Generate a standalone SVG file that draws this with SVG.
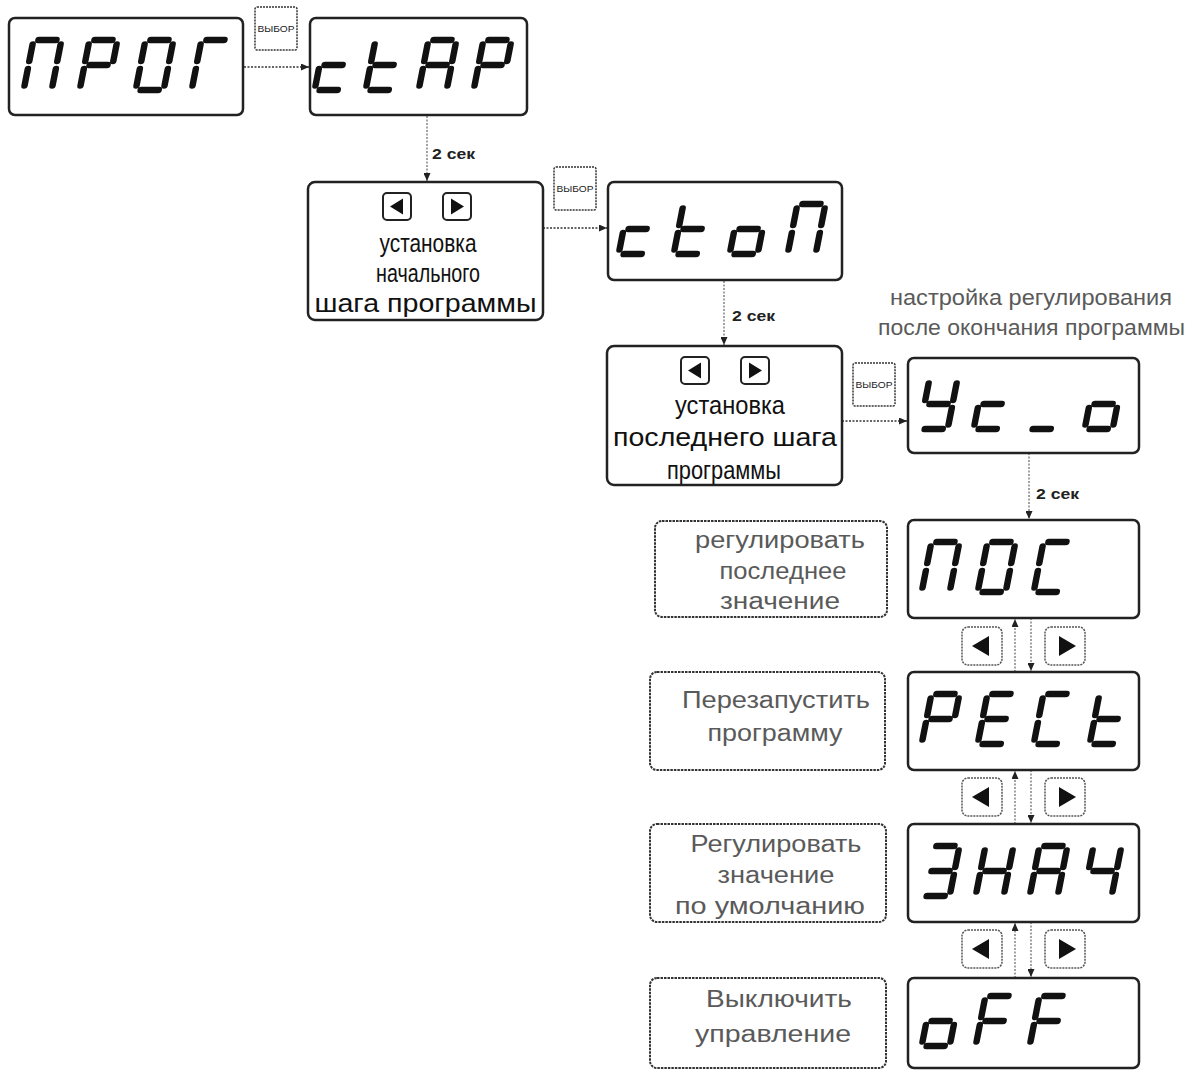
<svg xmlns="http://www.w3.org/2000/svg" xmlns:xlink="http://www.w3.org/1999/xlink" width="1196" height="1070" viewBox="0 0 1196 1070">
<style>
.disp{fill:#fff;stroke:#222;stroke-width:2.5}
.lbox{fill:#fff;stroke:#333;stroke-width:2;stroke-dasharray:2.5 1}
.s{fill:none;stroke:#111;stroke-width:6.5;stroke-linecap:round}
.btn{fill:#fff;stroke:#222;stroke-width:2}
.btn2{fill:#fff;stroke:#555;stroke-width:1.5;stroke-dasharray:2 1}
.tri{fill:#111}
.sel{fill:#fff;stroke:#333;stroke-width:1.5;stroke-dasharray:2 1}
.seltxt{font-family:"Liberation Sans",Arial,sans-serif;font-size:9.5px;fill:#222;text-anchor:middle}
.t{font-family:"Liberation Sans",Arial,sans-serif;font-size:25px;fill:#111;text-anchor:middle}
.tg{font-family:"Liberation Sans",Arial,sans-serif;font-size:23px;fill:#5a5a5a;text-anchor:middle}
.note{font-family:"Liberation Sans",Arial,sans-serif;font-size:22px;fill:#5a5a5a;text-anchor:middle}
.sec{font-family:"Liberation Sans",Arial,sans-serif;font-size:15px;font-weight:bold;fill:#222}
.c{fill:none;stroke:#333;stroke-width:1.5;stroke-dasharray:2 1.5}
.cv{fill:none;stroke:#666;stroke-width:1.2;stroke-dasharray:2 1.5}
</style>
<defs>
<marker id="ah" markerUnits="userSpaceOnUse" markerWidth="8" markerHeight="7" refX="8" refY="3.5" orient="auto">
<path d="M0,0 L8,3.5 L0,7 z" fill="#222"/>
</marker>
<path id="sa" d="M8 3 H26"/>
<path id="sb" d="M31 7.5 V24"/>
<path id="sc" d="M31 32 V48.5"/>
<path id="sd" d="M8 53 H26"/>
<path id="se" d="M3 32 V48.5"/>
<path id="sf" d="M3 7.5 V24"/>
<path id="sg" d="M8 28 H26"/>
<g id="gPe" class="s" transform="skewX(-11)"><use href="#sa"/><use href="#sb"/><use href="#sc"/><use href="#se"/><use href="#sf"/></g>
<g id="gEr" class="s" transform="skewX(-11)"><use href="#sa"/><use href="#sb"/><use href="#sf"/><use href="#sg"/><use href="#se"/></g>
<g id="gO" class="s" transform="skewX(-11)"><use href="#sa"/><use href="#sb"/><use href="#sc"/><use href="#sd"/><use href="#se"/><use href="#sf"/></g>
<g id="gG" class="s" transform="skewX(-11)"><use href="#sa"/><use href="#sf"/><use href="#se"/></g>
<g id="gc" class="s" transform="skewX(-11)"><use href="#sg"/><use href="#se"/><use href="#sd"/></g>
<g id="gt" class="s" transform="skewX(-11)"><use href="#sf"/><use href="#se"/><use href="#sg"/><use href="#sd"/></g>
<g id="gA" class="s" transform="skewX(-11)"><use href="#sa"/><use href="#sb"/><use href="#sc"/><use href="#se"/><use href="#sf"/><use href="#sg"/></g>
<g id="go" class="s" transform="skewX(-11)"><use href="#sg"/><use href="#sc"/><use href="#sd"/><use href="#se"/></g>
<g id="gU" class="s" transform="skewX(-11)"><use href="#sf"/><use href="#sb"/><use href="#sg"/><use href="#sc"/><use href="#sd"/></g>
<g id="gu" class="s" transform="skewX(-11)"><use href="#sd"/></g>
<g id="gS" class="s" transform="skewX(-11)"><use href="#sa"/><use href="#sf"/><use href="#se"/><use href="#sd"/></g>
<g id="gE" class="s" transform="skewX(-11)"><use href="#sa"/><use href="#sf"/><use href="#sg"/><use href="#se"/><use href="#sd"/></g>
<g id="gZ" class="s" transform="skewX(-11)"><use href="#sa"/><use href="#sb"/><use href="#sg"/><use href="#sc"/><use href="#sd"/></g>
<g id="gN" class="s" transform="skewX(-11)"><use href="#sf"/><use href="#sb"/><use href="#sg"/><use href="#se"/><use href="#sc"/></g>
<g id="gCh" class="s" transform="skewX(-11)"><use href="#sf"/><use href="#sb"/><use href="#sg"/><use href="#sc"/></g>
<g id="gF" class="s" transform="skewX(-11)"><use href="#sa"/><use href="#sf"/><use href="#sg"/><use href="#se"/></g>
<path id="tl" class="tri" d="M0 0 L13 -8 L13 8 z"/>
<path id="tr" class="tri" d="M0 0 L-13 -8 L-13 8 z"/>
<path id="tl2" class="tri" d="M0 0 L17 -10 L17 10 z"/>
<path id="tr2" class="tri" d="M0 0 L-17 -10 L-17 10 z"/>
</defs>

<g id="connectors">
<path class="c" d="M244 67 H309" marker-end="url(#ah)"/>
<path class="cv" d="M427 116 V181" marker-end="url(#ah)"/>
<path class="c" d="M543 228 H607" marker-end="url(#ah)"/>
<path class="cv" d="M724 281 V345" marker-end="url(#ah)"/>
<path class="c" d="M842 421 H907" marker-end="url(#ah)"/>
<path class="cv" d="M1029 453 V519" marker-end="url(#ah)"/>
<path class="cv" d="M1015 672 V619" marker-end="url(#ah)"/>
<path class="cv" d="M1031 618 V671" marker-end="url(#ah)"/>
<path class="cv" d="M1015 824 V771" marker-end="url(#ah)"/>
<path class="cv" d="M1031 770 V823" marker-end="url(#ah)"/>
<path class="cv" d="M1015 978 V923" marker-end="url(#ah)"/>
<path class="cv" d="M1031 922 V977" marker-end="url(#ah)"/>
<text class="sec" x="432" y="159" textLength="43" lengthAdjust="spacingAndGlyphs">2 сек</text>
<text class="sec" x="732" y="321" textLength="43" lengthAdjust="spacingAndGlyphs">2 сек</text>
<text class="sec" x="1036" y="499" textLength="43" lengthAdjust="spacingAndGlyphs">2 сек</text>
</g>

<g id="n-prog">
<rect class="disp" x="9" y="18" width="234" height="97" rx="6"/>
<use href="#gPe" x="31" y="37"/>
<use href="#gEr" x="87" y="37"/>
<use href="#gO" x="143" y="37"/>
<use href="#gG" x="199" y="37"/>
</g>

<g id="n-sel1">
<rect class="sel" x="255" y="7" width="42" height="43" rx="2"/>
<text class="seltxt" x="276" y="32" textLength="37" lengthAdjust="spacingAndGlyphs">ВЫБОР</text>
</g>

<g id="n-ctap">
<rect class="disp" x="310" y="18" width="217" height="97" rx="6"/>
<use href="#gc" x="322" y="37"/>
<use href="#gt" x="373" y="37"/>
<use href="#gA" x="426" y="37"/>
<use href="#gEr" x="481" y="37"/>
</g>

<g id="n-start">
<rect class="disp" x="308" y="182" width="235" height="138" rx="7"/>
<rect class="btn" x="383" y="193" width="28" height="27" rx="4"/>
<use href="#tl" x="390" y="206.5"/>
<rect class="btn" x="443" y="193" width="28" height="27" rx="4"/>
<use href="#tr" x="464" y="206.5"/>
<text class="t" x="428" y="252" textLength="97" lengthAdjust="spacingAndGlyphs">установка</text>
<text class="t" x="428" y="282" textLength="104" lengthAdjust="spacingAndGlyphs">начального</text>
<text class="t" x="425.5" y="312" textLength="222" lengthAdjust="spacingAndGlyphs">шага программы</text>
</g>

<g id="n-sel2">
<rect class="sel" x="554" y="167" width="42" height="43" rx="2"/>
<text class="seltxt" x="575" y="192" textLength="37" lengthAdjust="spacingAndGlyphs">ВЫБОР</text>
</g>

<g id="n-cton">
<rect class="disp" x="608" y="182" width="234" height="98" rx="6"/>
<use href="#gc" x="626" y="201"/>
<use href="#gt" x="681" y="201"/>
<use href="#go" x="737" y="201"/>
<use href="#gPe" x="795" y="201"/>
</g>

<g id="n-end">
<rect class="disp" x="607" y="346" width="235" height="139" rx="7"/>
<rect class="btn" x="681" y="357" width="28" height="27" rx="4"/>
<use href="#tl" x="688" y="370.5"/>
<rect class="btn" x="741" y="357" width="28" height="27" rx="4"/>
<use href="#tr" x="762" y="370.5"/>
<text class="t" x="730" y="414" textLength="110" lengthAdjust="spacingAndGlyphs">установка</text>
<text class="t" x="725" y="446" textLength="224" lengthAdjust="spacingAndGlyphs">последнего шага</text>
<text class="t" x="724" y="479" textLength="114" lengthAdjust="spacingAndGlyphs">программы</text>
</g>

<g id="n-note">
<text class="note" x="1031" y="305" textLength="282" lengthAdjust="spacingAndGlyphs">настройка регулирования</text>
<text class="note" x="1031.5" y="335" textLength="307" lengthAdjust="spacingAndGlyphs">после окончания программы</text>
</g>

<g id="n-sel3">
<rect class="sel" x="853" y="363" width="42" height="43" rx="2"/>
<text class="seltxt" x="874" y="388" textLength="37" lengthAdjust="spacingAndGlyphs">ВЫБОР</text>
</g>

<g id="n-uso">
<rect class="disp" x="908" y="358" width="231" height="95" rx="6"/>
<use href="#gU" x="927" y="376"/>
<use href="#gc" x="981" y="376"/>
<use href="#gu" x="1035" y="376"/>
<use href="#go" x="1092" y="376"/>
</g>

<g id="n-pos-l">
<rect class="lbox" x="655" y="521" width="232" height="96" rx="7"/>
<text class="tg" x="780" y="548" textLength="170" lengthAdjust="spacingAndGlyphs">регулировать</text>
<text class="tg" x="783" y="579" textLength="127" lengthAdjust="spacingAndGlyphs">последнее</text>
<text class="tg" x="780" y="609" textLength="120" lengthAdjust="spacingAndGlyphs">значение</text>
</g>
<g id="n-pos">
<rect class="disp" x="908" y="520" width="231" height="98" rx="6"/>
<use href="#gPe" x="929" y="539"/>
<use href="#gO" x="985" y="539"/>
<use href="#gS" x="1041" y="539"/>
</g>
<g id="n-btn1">
<rect class="btn2" x="962" y="627" width="40" height="38" rx="6"/>
<use href="#tl2" x="972" y="646"/>
<rect class="btn2" x="1045" y="627" width="40" height="38" rx="6"/>
<use href="#tr2" x="1076" y="646"/>
</g>

<g id="n-rest-l">
<rect class="lbox" x="650" y="672" width="235" height="98" rx="7"/>
<text class="tg" x="776" y="708" textLength="188" lengthAdjust="spacingAndGlyphs">Перезапустить</text>
<text class="tg" x="775" y="741" textLength="135" lengthAdjust="spacingAndGlyphs">программу</text>
</g>
<g id="n-rest">
<rect class="disp" x="908" y="672" width="231" height="98" rx="6"/>
<use href="#gEr" x="929" y="691"/>
<use href="#gE" x="985" y="691"/>
<use href="#gS" x="1041" y="691"/>
<use href="#gt" x="1097" y="691"/>
</g>
<g id="n-btn2">
<rect class="btn2" x="962" y="778" width="40" height="38" rx="6"/>
<use href="#tl2" x="972" y="797"/>
<rect class="btn2" x="1045" y="778" width="40" height="38" rx="6"/>
<use href="#tr2" x="1076" y="797"/>
</g>

<g id="n-znach-l">
<rect class="lbox" x="650" y="824" width="236" height="98" rx="7"/>
<text class="tg" x="776" y="852" textLength="171" lengthAdjust="spacingAndGlyphs">Регулировать</text>
<text class="tg" x="776" y="883" textLength="117" lengthAdjust="spacingAndGlyphs">значение</text>
<text class="tg" x="770" y="914" textLength="190" lengthAdjust="spacingAndGlyphs">по умолчанию</text>
</g>
<g id="n-znach">
<rect class="disp" x="908" y="824" width="231" height="98" rx="6"/>
<use href="#gZ" x="929" y="843"/>
<use href="#gN" x="983" y="843"/>
<use href="#gA" x="1037" y="843"/>
<use href="#gCh" x="1091" y="843"/>
</g>
<g id="n-btn3">
<rect class="btn2" x="962" y="930" width="40" height="38" rx="6"/>
<use href="#tl2" x="972" y="949"/>
<rect class="btn2" x="1045" y="930" width="40" height="38" rx="6"/>
<use href="#tr2" x="1076" y="949"/>
</g>

<g id="n-off-l">
<rect class="lbox" x="650" y="978" width="236" height="90" rx="7"/>
<text class="tg" x="779" y="1007" textLength="146" lengthAdjust="spacingAndGlyphs">Выключить</text>
<text class="tg" x="773" y="1042" textLength="156" lengthAdjust="spacingAndGlyphs">управление</text>
</g>
<g id="n-off">
<rect class="disp" x="908" y="978" width="231" height="90" rx="6"/>
<use href="#go" x="929" y="993"/>
<use href="#gF" x="983" y="993"/>
<use href="#gF" x="1037" y="993"/>
</g>
</svg>
